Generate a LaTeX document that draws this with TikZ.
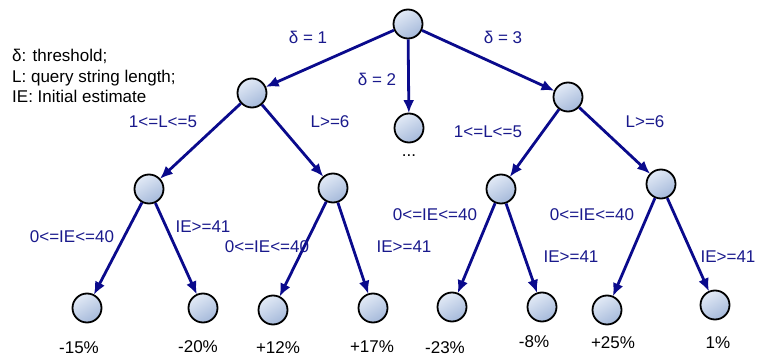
\documentclass[tikz,border=0pt]{standalone}
\usepackage{fontspec}
\setmainfont{Liberation Sans}
\usetikzlibrary{arrows.meta}
\definecolor{edgeblue}{RGB}{10,10,140}
\definecolor{labblue}{RGB}{25,25,140}
\definecolor{nodetop}{RGB}{226,234,246}
\definecolor{nodebot}{RGB}{165,185,218}
\tikzset{
  tnode/.style={circle, draw=black, line width=1.8pt, minimum size=29pt, inner sep=0pt,
    top color=nodetop, bottom color=nodebot, shading angle=30},
  edge/.style={draw=edgeblue, line width=2.8pt, -{Latex[length=13pt,width=11pt]}, shorten >=-0.5pt},
  elab/.style={text=labblue, font=\fontsize{17}{19}\selectfont, inner sep=0pt},
  leaflab/.style={text=black, font=\fontsize{17}{19}\selectfont, inner sep=0pt},
  legend/.style={text=black, font=\fontsize{17}{20.5}\selectfont, align=left, inner sep=0pt, anchor=north west}
}
\begin{document}
\begin{tikzpicture}[x=1pt,y=-1pt]
\useasboundingbox (0,0) rectangle (768,358);
% nodes
\node[tnode] (r) at (408,24) {};
\node[tnode] (a) at (252,93) {};
\node[tnode] (m) at (409,128) {};
\node[tnode] (b) at (568,97) {};
\node[tnode] (a1) at (149,189) {};
\node[tnode] (a2) at (333,188) {};
\node[tnode] (b1) at (501,189) {};
\node[tnode] (b2) at (661,184) {};
\node[tnode] (l1) at (87,308) {};
\node[tnode] (l2) at (203,308) {};
\node[tnode] (l3) at (273,310) {};
\node[tnode] (l4) at (373,308) {};
\node[tnode] (l5) at (452,307) {};
\node[tnode] (l6) at (542,307) {};
\node[tnode] (l7) at (607,310) {};
\node[tnode] (l8) at (715,305) {};
% edges
\draw[edge] (r) -- (a);
\draw[edge] (r) -- (m);
\draw[edge] (r) -- (b);
\draw[edge] (a) -- (a1);
\draw[edge] (a) -- (a2);
\draw[edge] (b) -- (b1);
\draw[edge] (b) -- (b2);
\draw[edge] (a1) -- (l1);
\draw[edge] (a1) -- (l2);
\draw[edge] (a2) -- (l3);
\draw[edge] (a2) -- (l4);
\draw[edge] (b1) -- (l5);
\draw[edge] (b1) -- (l6);
\draw[edge] (b2) -- (l7);
\draw[edge] (b2) -- (l8);
% edge labels
\node[elab] (e1) at (308,37) {δ = 1};
\node[elab] (e2) at (377,79) {δ = 2};
\node[elab] (e3) at (503,37) {δ = 3};
\node[elab] (e4) at (163,122) {1<=L<=5};
\node[elab] (e5) at (330,122) {L>=6};
\node[elab] (e6) at (488,132) {1<=L<=5};
\node[elab] (e7) at (645,122) {L>=6};
\node[elab] (e8) at (72,237) {0<=IE<=40};
\node[elab] (e9) at (203,227) {IE>=41};
\node[elab] (e10) at (267,247) {0<=IE<=40};
\node[elab] (e11) at (404,247) {IE>=41};
\node[elab] (e12) at (435,215) {0<=IE<=40};
\node[elab] (e13) at (571,257) {IE>=41};
\node[elab] (e14) at (592,215) {0<=IE<=40};
\node[elab] (e15) at (728,257) {IE>=41};
% dots
\node[leaflab] (dots) at (409,156) {...};
% leaf labels
\node[leaflab] (t1) at (79,348) {-15\%};
\node[leaflab] (t2) at (198,347) {-20\%};
\node[leaflab] (t3) at (278,348) {+12\%};
\node[leaflab] (t4) at (372,347) {+17\%};
\node[leaflab] (t5) at (445,348) {-23\%};
\node[leaflab] (t6) at (534,342) {-8\%};
\node[leaflab] (t7) at (613,343) {+25\%};
\node[leaflab] (t8) at (718,343) {1\%};
% legend
\node[legend] (leg) at (12,49) {δ: threshold;\\L: query string length;\\IE: Initial estimate};
\end{tikzpicture}
\end{document}
